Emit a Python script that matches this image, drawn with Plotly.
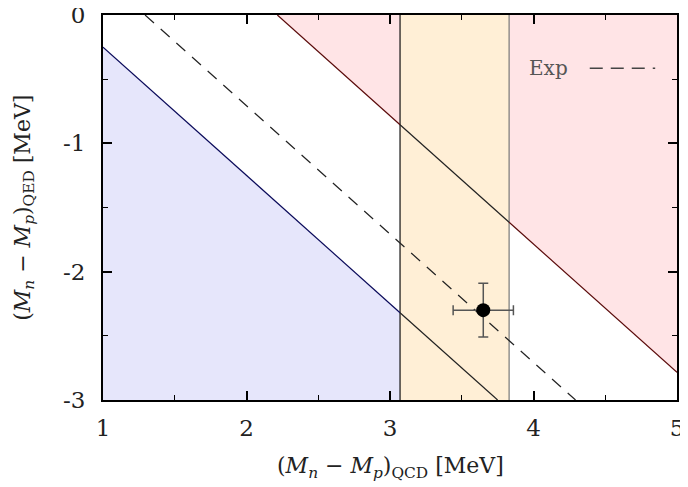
import plotly.graph_objects as go

# ---- data ----
x_range = [1, 5]
y_range = [-3, 0]
x_ticks = [1, 2, 3, 4, 5]
y_ticks = [0, -1, -2, -3]
# constraint lines: y = c - x
lower_c = 0.75
upper_c = 2.215
exp_c = 1.293
band = [3.07, 3.83]
pt_x = [3.65]
pt_y = [-2.30]
pt_ex = [0.21]
pt_ey = [0.21]

BLUE_FILL = "#e6e6fb"
RED_FILL = "#ffe4e6"
BAND_FILL = "#ffefd6"
NAVY = "#0a0a5a"
MAROON = "#5a0a0a"
FONT = "DejaVu Serif, serif"
TXT = "#222"

xmin, xmax = x_range
ymin, ymax = y_range

def line_y(c, x):
    return c - x

def line_x(c, y):
    return c - y

fig = go.Figure()

# red region above upper line
x0 = line_x(upper_c, ymax)
fig.add_trace(go.Scatter(
    x=[x0, xmax, xmax, x0],
    y=[ymax, ymax, line_y(upper_c, xmax), ymax],
    fill="toself", fillcolor=RED_FILL, mode="lines", line=dict(width=0),
    hoverinfo="skip", showlegend=False))

# blue region below lower line
x1 = line_x(lower_c, ymin)
fig.add_trace(go.Scatter(
    x=[xmin, xmin, x1, xmin],
    y=[ymin, line_y(lower_c, xmin), ymin, ymin],
    fill="toself", fillcolor=BLUE_FILL, mode="lines", line=dict(width=0),
    hoverinfo="skip", showlegend=False))

# band
fig.add_trace(go.Scatter(
    x=[band[0], band[1], band[1], band[0], band[0]],
    y=[ymin, ymin, ymax, ymax, ymin],
    fill="toself", fillcolor=BAND_FILL, mode="lines", line=dict(width=0),
    hoverinfo="skip", showlegend=False))
fig.add_trace(go.Scatter(x=[band[0], band[0]], y=[ymin, ymax], mode="lines",
                         line=dict(color="#111", width=1.2), hoverinfo="skip", showlegend=False))
fig.add_trace(go.Scatter(x=[band[1], band[1]], y=[ymin, ymax], mode="lines",
                         line=dict(color="#777", width=1.2), hoverinfo="skip", showlegend=False))

# lower line: navy outside band, dark inside
fig.add_trace(go.Scatter(x=[xmin, band[0]], y=[line_y(lower_c, xmin), line_y(lower_c, band[0])],
                         mode="lines", line=dict(color=NAVY, width=1.2), hoverinfo="skip", showlegend=False))
fig.add_trace(go.Scatter(x=[band[0], x1], y=[line_y(lower_c, band[0]), ymin],
                         mode="lines", line=dict(color="#222", width=1.2), hoverinfo="skip", showlegend=False))

# upper line
fig.add_trace(go.Scatter(x=[x0, band[0]], y=[ymax, line_y(upper_c, band[0])],
                         mode="lines", line=dict(color=MAROON, width=1.2), hoverinfo="skip", showlegend=False))
fig.add_trace(go.Scatter(x=[band[0], band[1]], y=[line_y(upper_c, band[0]), line_y(upper_c, band[1])],
                         mode="lines", line=dict(color="#222", width=1.2), hoverinfo="skip", showlegend=False))
fig.add_trace(go.Scatter(x=[band[1], xmax], y=[line_y(upper_c, band[1]), line_y(upper_c, xmax)],
                         mode="lines", line=dict(color=MAROON, width=1.2), hoverinfo="skip", showlegend=False))

# experimental dashed line
fig.add_trace(go.Scatter(x=[line_x(exp_c, ymax), line_x(exp_c, ymin)], y=[ymax, ymin],
                         mode="lines", line=dict(color="#222", width=1.2, dash="12px,9px"),
                         hoverinfo="skip", showlegend=False))

# data point
fig.add_trace(go.Scatter(
    x=pt_x, y=pt_y, mode="markers",
    marker=dict(color="black", size=14),
    error_x=dict(type="data", array=pt_ex, color="#555", thickness=1.5, width=5),
    error_y=dict(type="data", array=pt_ey, color="#555", thickness=1.5, width=5),
    showlegend=False))

# legend-like label
fig.add_annotation(x=0.738, y=0.862, xref="paper", yref="paper", text="Exp",
                   showarrow=False, xanchor="left", yanchor="middle",
                   font=dict(family=FONT, size=20, color="#555"))
fig.add_shape(type="line", xref="paper", yref="paper", x0=0.848, x1=0.962, y0=0.862, y1=0.862,
              line=dict(color="#444", width=1.5, dash="13px,8px"))

# axis titles
fig.add_annotation(x=0.5, y=-0.175, xref="paper", yref="paper", showarrow=False,
                   xanchor="center", yanchor="middle",
                   text="(<i>M<sub>n</sub></i> − <i>M<sub>p</sub></i>)<sub>QCD</sub> [MeV]",
                   font=dict(family=FONT, size=22, color=TXT))
fig.add_annotation(x=-0.137, y=0.5, xref="paper", yref="paper", showarrow=False,
                   xanchor="center", yanchor="middle", textangle=-90,
                   text="(<i>M<sub>n</sub></i> − <i>M<sub>p</sub></i>)<sub>QED</sub> [MeV]",
                   font=dict(family=FONT, size=22, color=TXT))

axis_common = dict(
    showgrid=False, zeroline=False, showline=True, linecolor="black", linewidth=2,
    mirror="allticks", ticks="inside", ticklen=9, tickwidth=1.5, tickcolor="black",
    tickfont=dict(family=FONT, size=23, color=TXT), automargin=False,
    ticklabeloverflow="allow",
    minor=dict(ticks="inside", ticklen=5, tickwidth=1, tickcolor="black", dtick=0.5),
)

# page body has an 8px margin, so the figure is shrunk by 8px and margins offset
fig.update_layout(
    width=680, height=479,
    margin=dict(l=95, r=11, t=7, b=87),
    plot_bgcolor="white", paper_bgcolor="white",
    xaxis=dict(range=x_range, tickvals=x_ticks, ticktext=[str(v) for v in x_ticks],
               ticklabelstandoff=6, **axis_common),
    yaxis=dict(range=y_range, tickvals=y_ticks, ticktext=[str(v) for v in y_ticks],
               ticklabelstandoff=11, **axis_common),
)

fig.write_html("out.html")
